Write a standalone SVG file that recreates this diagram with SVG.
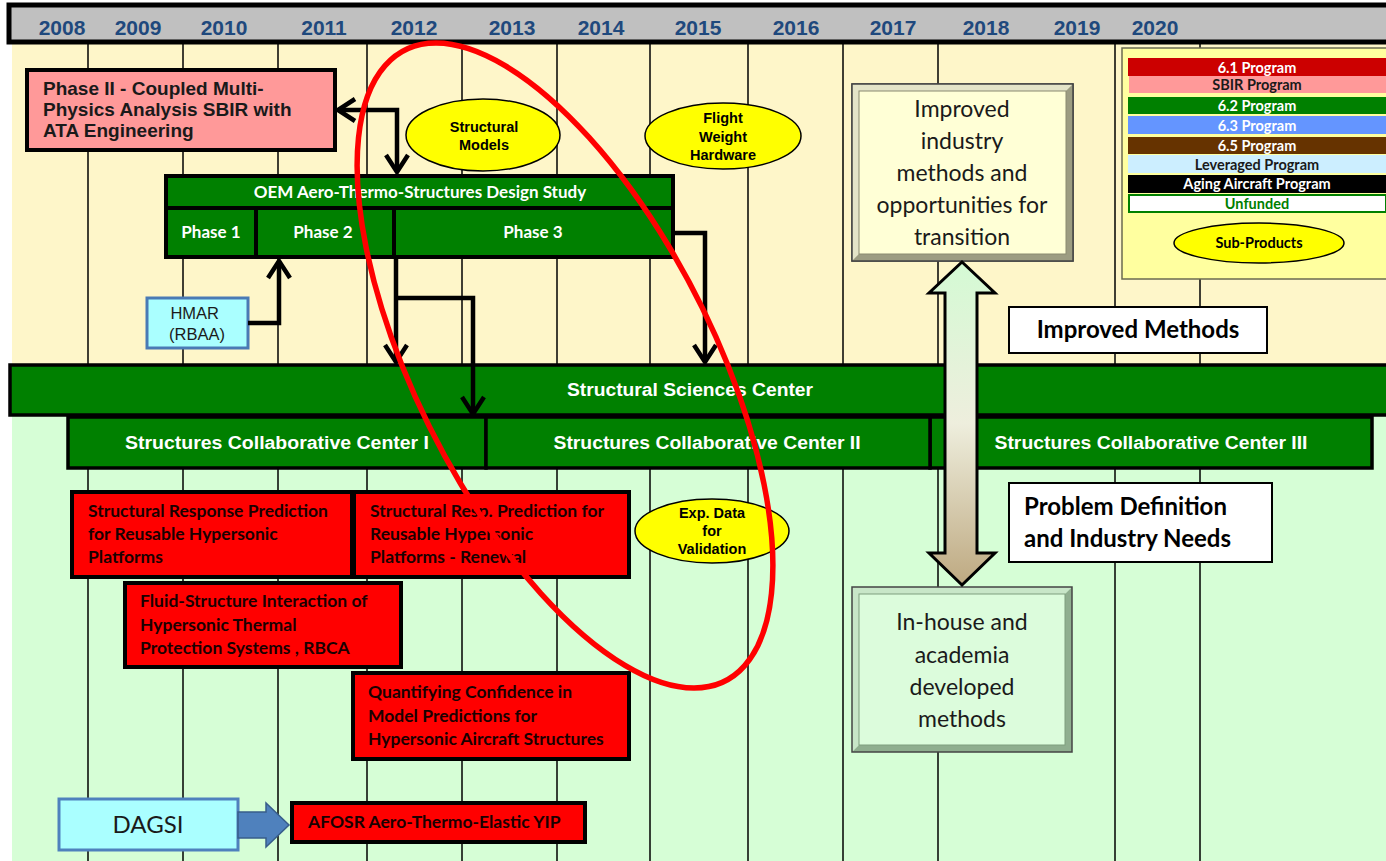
<svg xmlns="http://www.w3.org/2000/svg" width="1386" height="861" viewBox="0 0 1386 861">
<defs>
<style>
.yr{font:bold 21px "Liberation Sans",Arial,sans-serif;fill:#1f497d;text-anchor:middle}
.grid{stroke:#000;stroke-width:1.5}
.gbar{fill:#008000;stroke:#000;stroke-width:3.5}
.wt{font-family:"Liberation Sans",Arial,sans-serif;font-weight:bold;font-size:18px;fill:#fff;text-anchor:middle}
.wc{font-family:Lato,"Liberation Sans",sans-serif;font-weight:bold;font-size:17px;fill:#fff;text-anchor:middle}
.rbox{fill:#ff0000;stroke:#000;stroke-width:4}
.rt{font-family:Lato,"Liberation Sans",sans-serif;font-weight:bold;font-size:17.5px;fill:#1a0000}
.ell{fill:#ffff00;stroke:#000;stroke-width:1.5}
.et{font-family:"Liberation Sans",Arial,sans-serif;font-weight:bold;font-size:14.5px;fill:#000;text-anchor:middle}
.conn{fill:none;stroke:#000;stroke-width:4.5}
.lg{font-family:Lato,"Liberation Sans",sans-serif;font-weight:bold;font-size:14.5px;text-anchor:middle}
.big{font-family:Lato,"Liberation Sans",sans-serif;font-size:23px;fill:#1a1a1a;text-anchor:middle}
.bigb{font-family:Lato,"Liberation Sans",sans-serif;font-weight:bold;font-size:24px;fill:#000}
</style>
<marker id="arr" viewBox="0 0 22 26" refX="19" refY="13" markerWidth="22" markerHeight="26" markerUnits="userSpaceOnUse" orient="auto-start-reverse">
<path d="M2,2 L19,13 L2,24" fill="none" stroke="#000" stroke-width="4.5"/>
</marker>
<linearGradient id="dbl" x1="0" y1="0" x2="0" y2="1">
<stop offset="0" stop-color="#d4fad4"/><stop offset="0.5" stop-color="#eeeedd"/><stop offset="1" stop-color="#bea981"/>
</linearGradient>
</defs>

<!-- backgrounds -->
<rect x="0" y="0" width="1386" height="861" fill="#fff"/>
<rect x="12" y="44" width="1374" height="321" fill="#fef6c9"/>
<rect x="12" y="415" width="1374" height="446" fill="#d6fed6"/>

<!-- grid -->
<g id="grid" class="grid">
<line x1="88" y1="44" x2="88" y2="861"/>
<line x1="183" y1="44" x2="183" y2="861"/>
<line x1="278" y1="44" x2="278" y2="861"/>
<line x1="367" y1="44" x2="367" y2="861"/>
<line x1="462" y1="44" x2="462" y2="861"/>
<line x1="557" y1="44" x2="557" y2="861"/>
<line x1="650" y1="44" x2="650" y2="861"/>
<line x1="748" y1="44" x2="748" y2="861"/>
<line x1="843" y1="44" x2="843" y2="861"/>
<line x1="938" y1="44" x2="938" y2="861"/>
<line x1="1115" y1="44" x2="1115" y2="861"/>
<line x1="1200" y1="44" x2="1200" y2="861"/>
</g>

<!-- header -->
<g id="header">
<rect x="9" y="5" width="1390" height="37" fill="#c0c0c0" stroke="#000" stroke-width="5"/>
<text class="yr" x="62" y="35">2008</text>
<text class="yr" x="138" y="35">2009</text>
<text class="yr" x="224" y="35">2010</text>
<text class="yr" x="324" y="35">2011</text>
<text class="yr" x="414" y="35">2012</text>
<text class="yr" x="512" y="35">2013</text>
<text class="yr" x="601" y="35">2014</text>
<text class="yr" x="698" y="35">2015</text>
<text class="yr" x="796" y="35">2016</text>
<text class="yr" x="893" y="35">2017</text>
<text class="yr" x="986" y="35">2018</text>
<text class="yr" x="1077" y="35">2019</text>
<text class="yr" x="1155" y="35">2020</text>
</g>

<!-- legend -->
<g id="legend">
<rect x="1122" y="48" width="270" height="231" fill="#ffff9f" stroke="#6b6b50" stroke-width="1.5"/>
<rect x="1128" y="58" width="258" height="18" fill="#cc0000"/>
<text class="lg" x="1257" y="73" fill="#fff">6.1 Program</text>
<rect x="1129" y="76" width="257" height="17" fill="#ff9999"/>
<text class="lg" x="1257" y="90" fill="#1a1a1a">SBIR Program</text>
<rect x="1128" y="97" width="258" height="17" fill="#008000"/>
<text class="lg" x="1257" y="111" fill="#fff">6.2 Program</text>
<rect x="1128" y="116" width="258" height="18" fill="#6495ff"/>
<text class="lg" x="1257" y="131" fill="#fff">6.3 Program</text>
<rect x="1128" y="137" width="258" height="17" fill="#663300"/>
<text class="lg" x="1257" y="151" fill="#fff">6.5 Program</text>
<rect x="1128" y="155" width="258" height="18" fill="#cceeff"/>
<text class="lg" x="1257" y="170" fill="#1a1a1a">Leveraged Program</text>
<rect x="1128" y="175" width="258" height="18" fill="#000"/>
<text class="lg" x="1257" y="189" fill="#fff">Aging Aircraft  Program</text>
<rect x="1129" y="195" width="257" height="17" fill="#fff" stroke="#008000" stroke-width="2"/>
<text class="lg" x="1257" y="209" fill="#008000">Unfunded</text>
<ellipse class="ell" cx="1259" cy="243" rx="85" ry="20"/>
<text class="lg" x="1259" y="248" fill="#000">Sub-Products</text>
</g>

<!-- Phase II SBIR -->
<g id="phase2-sbir">
<rect x="27" y="70" width="308" height="80" fill="#ff9999" stroke="#000" stroke-width="4"/>
<text font-family="Liberation Sans, Arial, sans-serif" font-weight="bold" font-size="19" fill="#1a1a1a">
<tspan x="43" y="95">Phase II - Coupled Multi-</tspan>
<tspan x="43" y="116">Physics Analysis SBIR with</tspan>
<tspan x="43" y="137">ATA Engineering</tspan>
</text>
</g>

<!-- OEM study -->
<g id="oem-study">
<rect x="166" y="176" width="507" height="81" fill="#008000" stroke="#000" stroke-width="4"/>
<line x1="166" y1="208" x2="673" y2="208" stroke="#000" stroke-width="4"/>
<line x1="256" y1="208" x2="256" y2="257" stroke="#000" stroke-width="4"/>
<line x1="394" y1="208" x2="394" y2="257" stroke="#000" stroke-width="4"/>
<text class="wc" x="420" y="198">OEM Aero-Thermo-Structures Design Study</text>
<text class="wc" x="211" y="238">Phase 1</text>
<text class="wc" x="323" y="238">Phase 2</text>
<text class="wc" x="533" y="238">Phase 3</text>
</g>

<!-- HMAR -->
<g id="hmar">
<rect x="147" y="298" width="101" height="50" fill="#aaffff" stroke="#4a7ab5" stroke-width="3"/>
<text font-family="Liberation Sans, Arial, sans-serif" font-size="16.5" fill="#1a1a1a" text-anchor="middle">
<tspan x="197" y="319">HMAR</tspan>
<tspan x="197" y="340">(RBAA)</tspan>
</text>
</g>

<!-- sub-product ellipses -->
<g id="structural-models">
<ellipse class="ell" cx="483" cy="135" rx="77" ry="36"/>
<text class="et"><tspan x="484" y="132">Structural</tspan><tspan x="484" y="150">Models</tspan></text>
</g>
<g id="flight-weight-hardware">
<ellipse class="ell" cx="723" cy="136" rx="78" ry="33"/>
<text class="et"><tspan x="723" y="123">Flight</tspan><tspan x="723" y="142">Weight</tspan><tspan x="723" y="160">Hardware</tspan></text>
</g>

<!-- Improved Methods label -->
<g id="improved-methods">
<rect x="1009" y="307" width="258" height="46" fill="#fff" stroke="#000" stroke-width="2"/>
<text class="bigb" x="1138" y="338" text-anchor="middle">Improved Methods</text>
</g>

<!-- Structural Sciences Center -->
<g id="ssc">
<rect class="gbar" x="10" y="365" width="1390" height="50"/>
<text class="wt" x="690" y="396" textLength="246" lengthAdjust="spacingAndGlyphs">Structural Sciences Center</text>
</g>

<!-- Collaborative centers -->
<g id="scc1">
<rect class="gbar" x="68" y="417" width="418" height="51"/>
<text class="wt" x="277" y="449" textLength="304" lengthAdjust="spacingAndGlyphs">Structures Collaborative Center  I</text>
</g>
<g id="scc3">
<rect class="gbar" x="930" y="417" width="442" height="51"/>
<text class="wt" x="1151" y="449" textLength="313" lengthAdjust="spacingAndGlyphs">Structures Collaborative Center  III</text>
</g>
<g id="scc2">
<rect class="gbar" x="486" y="417" width="444" height="51"/>
<text class="wt" x="707" y="449" textLength="307" lengthAdjust="spacingAndGlyphs">Structures Collaborative Center  II</text>
</g>

<!-- Red program boxes -->
<g id="srp">
<rect class="rbox" x="72" y="492" width="280" height="85"/>
<text class="rt"><tspan x="88" y="517">Structural Response Prediction</tspan><tspan x="88" y="540">for Reusable Hypersonic</tspan><tspan x="88" y="563">Platforms</tspan></text>
</g>
<g id="srp-renewal">
<rect class="rbox" x="354" y="492" width="275" height="85"/>
<text class="rt"><tspan x="370" y="517">Structural Resp. Prediction for</tspan><tspan x="370" y="540">Reusable Hypersonic</tspan><tspan x="370" y="563">Platforms - Renewal</tspan></text>
</g>
<g id="fsi">
<rect class="rbox" x="125" y="583" width="276" height="84"/>
<text class="rt"><tspan x="140" y="607">Fluid-Structure Interaction of</tspan><tspan x="140" y="631">Hypersonic Thermal</tspan><tspan x="140" y="654">Protection Systems , RBCA</tspan></text>
</g>
<g id="quantifying">
<rect class="rbox" x="353" y="673" width="276" height="86"/>
<text class="rt"><tspan x="368" y="698">Quantifying Confidence in</tspan><tspan x="368" y="722">Model Predictions for</tspan><tspan x="368" y="745">Hypersonic Aircraft Structures</tspan></text>
</g>
<g id="afosr">
<rect class="rbox" x="292" y="803" width="293" height="39"/>
<text class="rt" x="308" y="828">AFOSR Aero-Thermo-Elastic YIP</text>
</g>

<!-- Exp data ellipse -->
<g id="exp-data">
<ellipse class="ell" cx="712" cy="531" rx="77" ry="32"/>
<text class="et" font-size="13.5"><tspan x="712" y="518">Exp. Data</tspan><tspan x="712" y="536">for</tspan><tspan x="712" y="554">Validation</tspan></text>
</g>

<!-- DAGSI -->
<g id="dagsi">
<rect x="59" y="799" width="179" height="51" fill="#aaffff" stroke="#4f81bd" stroke-width="3"/>
<text x="148" y="833" font-family="Lato, Liberation Sans, sans-serif" font-size="24" fill="#1a1a1a" text-anchor="middle">DAGSI</text>
</g>

<!-- Problem definition label -->
<g id="problem-definition">
<rect x="1009" y="483" width="263" height="79" fill="#fff" stroke="#000" stroke-width="2"/>
<text class="bigb"><tspan x="1024" y="515">Problem Definition</tspan><tspan x="1024" y="547">and Industry Needs</tspan></text>
</g>

<!-- Improved industry methods box -->
<g id="improved-industry">
<rect x="852" y="84" width="221" height="177" fill="#c4c4a4" stroke="#444" stroke-width="1.5"/>
<polygon points="852,84 1073,84 1066,91 859,91 859,254 852,261" fill="#e4e4c8"/>
<polygon points="1073,84 1073,261 852,261 859,254 1066,254 1066,91" fill="#9c9c82"/>
<rect x="859" y="91" width="207" height="163" fill="#ffffd6" stroke="#8a8a70" stroke-width="1"/>
<rect x="852" y="84" width="221" height="177" fill="none" stroke="#444" stroke-width="1.5"/>
<text class="big"><tspan x="962" y="117">Improved</tspan><tspan x="962" y="149">industry</tspan><tspan x="962" y="181">methods and</tspan><tspan x="962" y="213">opportunities for</tspan><tspan x="962" y="245">transition</tspan></text>
</g>

<!-- In-house box -->
<g id="in-house">
<polygon points="852,587 1072,587 1065,594 859,594 859,745 852,752" fill="#c8e6c8"/>
<polygon points="1072,587 1072,752 852,752 859,745 1065,745 1065,594" fill="#8fae8f"/>
<rect x="859" y="594" width="206" height="151" fill="#dcfcdc" stroke="#7e9e7e" stroke-width="1"/>
<rect x="852" y="587" width="220" height="165" fill="none" stroke="#444" stroke-width="1.5"/>
<text class="big"><tspan x="962" y="630">In-house and</tspan><tspan x="962" y="663">academia</tspan><tspan x="962" y="695">developed</tspan><tspan x="962" y="727">methods</tspan></text>
</g>

<!-- connectors -->
<g id="connectors">
<path class="conn" d="M338,110 H397 V172" marker-start="url(#arr)" marker-end="url(#arr)"/>
<path class="conn" d="M248,323 H279 V261" marker-end="url(#arr)"/>
<path class="conn" d="M396,258 V362" marker-end="url(#arr)"/>
<path class="conn" d="M396,298 H473 V414" marker-end="url(#arr)"/>
<path class="conn" d="M673,233 H705 V362" marker-end="url(#arr)"/>
<polygon points="238,812 266,812 266,803 289,825 266,847 266,838 238,838" fill="#4f81bd" stroke="#385d8a" stroke-width="1.5"/>
<polygon points="962,262 995,293 977,293 977,553 995,553 962,585 929,553 945,553 945,293 929,293" fill="url(#dbl)" stroke="#000" stroke-width="3"/>
</g>

<!-- red highlight ellipse -->
<g id="highlight">
<circle cx="0" cy="0" r="1" transform="matrix(163 0 129 322.5 565 365.5)" fill="none" stroke="#ff0000" stroke-width="5.5" vector-effect="non-scaling-stroke"/>
</g>
</svg>
